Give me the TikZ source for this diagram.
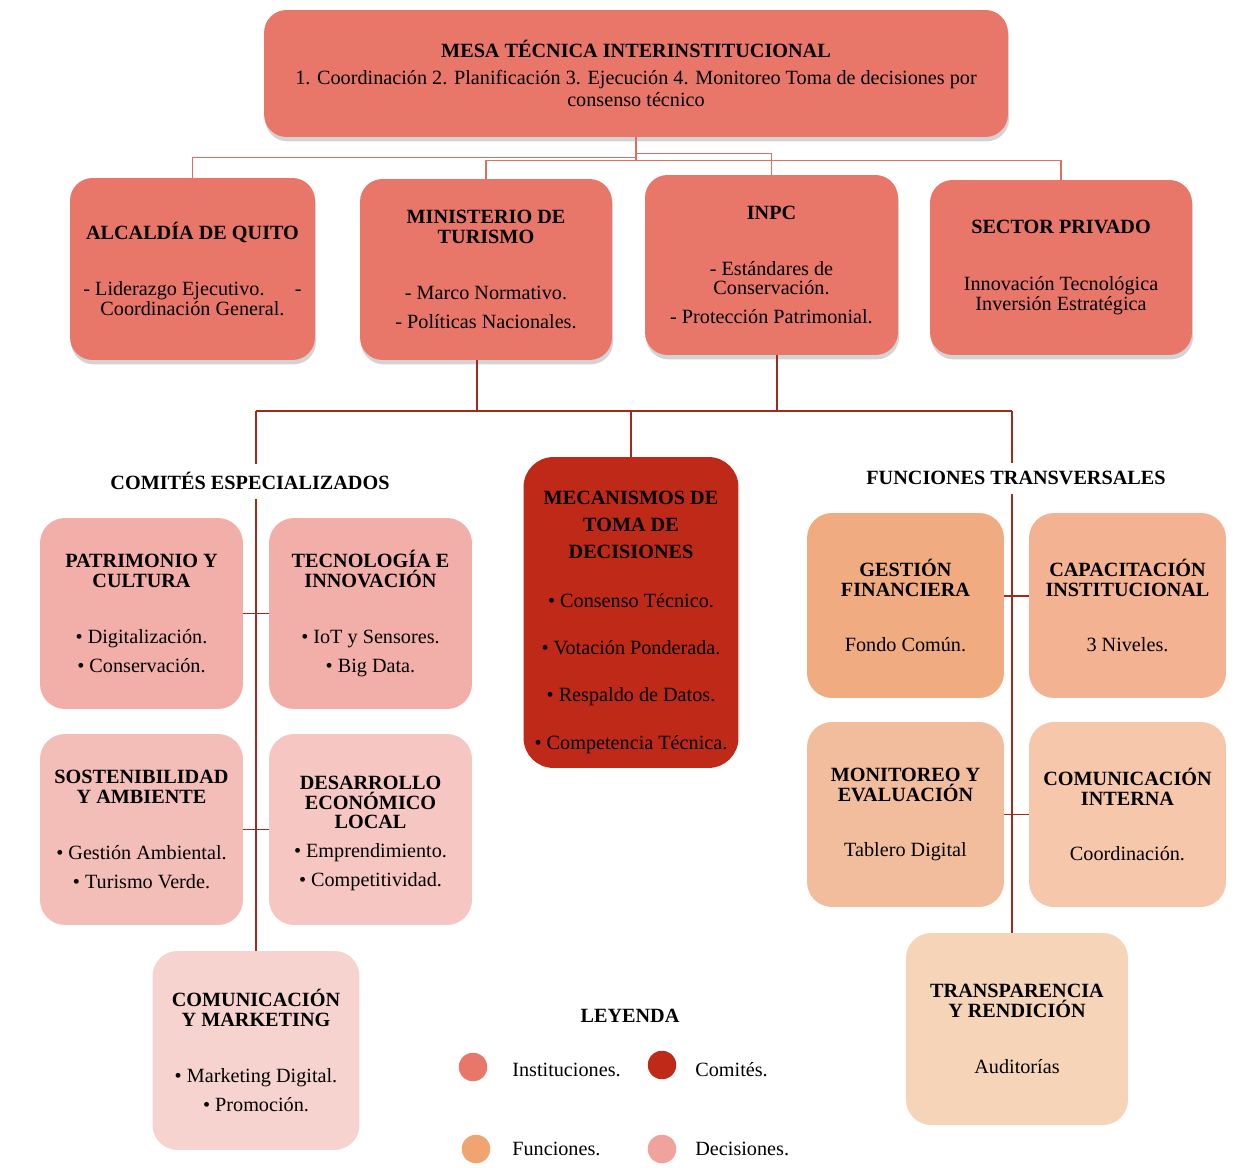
\documentclass[tikz,border=0pt]{standalone}
\usepackage{fontspec}
\setmainfont{Liberation Serif}
\usetikzlibrary{shadows}

\definecolor{institucion}{HTML}{E8776A}
\definecolor{decision}{HTML}{BE2918}
\definecolor{comiteA}{HTML}{F2AFA9}
\definecolor{comiteB}{HTML}{F3BDB8}
\definecolor{comiteC}{HTML}{F6C6C2}
\definecolor{comiteD}{HTML}{F6D3CF}
\definecolor{funcionA}{HTML}{F0AB80}
\definecolor{funcionB}{HTML}{F3B291}
\definecolor{funcionC}{HTML}{F2BD9C}
\definecolor{funcionD}{HTML}{F6C7AA}
\definecolor{funcionE}{HTML}{F5D4B8}
\definecolor{leyfuncion}{HTML}{F0A470}
\definecolor{leydecision}{HTML}{F0A29C}
\definecolor{lineasup}{HTML}{DC6E62}
\definecolor{lineainf}{HTML}{A02A1E}

\newcommand{\tamtexto}{\fontsize{11.5}{11.3}\selectfont}

\tikzset{
    caja/.style={rounded corners=0.45cm, align=center, inner sep=2pt},
    inst/.style={caja, fill=institucion, drop shadow={shadow xshift=0.6pt, shadow yshift=-2.5pt, opacity=0.35}},
    comite/.style={caja, rounded corners=0.5cm, minimum width=4.06cm, minimum height=3.82cm},
    funcion/.style={caja, rounded corners=0.5cm, minimum width=3.94cm, minimum height=3.7cm},
    lazo/.style={draw=lineasup, line width=0.9pt},
    enlace/.style={draw=lineainf, line width=1.1pt},
    grupo/.style={font=\tamtexto\bfseries, fill=white, inner xsep=2pt, inner ysep=5pt, anchor=base},
    punto/.style={circle, minimum size=0.57cm, inner sep=0pt},
    leyenda/.style={anchor=base west, inner sep=0pt}
}

\begin{document}
\begin{tikzpicture}[x=0.02cm, y=-0.02cm, font=\tamtexto]
    \useasboundingbox (0,0) rectangle (1248,1168);

    \node[inst, minimum width=14.88cm, minimum height=2.54cm] (mesa) at (636,73.5) {\textbf{MESA TÉCNICA INTERINSTITUCIONAL}\\[4pt]1. Coordinación 2. Planificación 3. Ejecución 4. Monitoreo Toma de decisiones por\\[1.2pt]consenso técnico};

    \node[inst, minimum width=4.9cm, minimum height=3.64cm] (alc) at (192.5,269) {\textbf{ALCALDÍA DE QUITO}\\[20.4pt]- Liderazgo Ejecutivo.\hspace{1.5em}-\\Coordinación General.};
    \node[inst, minimum width=5.04cm, minimum height=3.62cm] (min) at (486,269.5) {\textbf{MINISTERIO DE}\\\textbf{TURISMO}\\[20.4pt]- Marco Normativo.\\[5.1pt]- Políticas Nacionales.};
    \node[inst, minimum width=5.06cm, minimum height=3.6cm] (inpc) at (771.5,265) {\textbf{INPC}\\[20.4pt]- Estándares de\\Conservación.\\[5.1pt]- Protección Patrimonial.};
    \node[inst, minimum width=5.24cm, minimum height=3.5cm] (sec) at (1061,267.5) {\textbf{SECTOR PRIVADO}\\[21pt]Innovación Tecnológica\\Inversión Estratégica};

    \draw[lazo] (mesa.south) -- ++(0,20) -| (alc.north);
    \draw[lazo] (mesa.south) -- ++(0,23) -| (min.north);
    \draw[lazo] (mesa.south) -- ++(0,16) -| (inpc.north);
    \draw[lazo] (mesa.south) -- ++(0,23) -| (sec.north);

    \node[caja, fill=decision, rounded corners=0.6cm, minimum width=4.3cm, minimum height=6.22cm] (mec) at (631,612.5) {\rule{0pt}{19pt}\textbf{MECANISMOS DE}\\[4pt]\textbf{TOMA DE}\\[4pt]\textbf{DECISIONES}\\[16.5pt]• Consenso Técnico.\\[15.6pt]• Votación Ponderada.\\[15.6pt]• Respaldo de Datos.\\[15.6pt]• Competencia Técnica.};

    \node[comite, fill=comiteA] (pat) at (141.5,613.5) {\textbf{PATRIMONIO Y}\\\textbf{CULTURA}\\[20.4pt]• Digitalización.\\[5.1pt]• Conservación.};
    \node[comite, fill=comiteA] (tec) at (370.5,613.5) {\textbf{TECNOLOGÍA E}\\\textbf{INNOVACIÓN}\\[20.4pt]• IoT y Sensores.\\[5.1pt]• Big Data.};
    \node[comite, fill=comiteB] (sos) at (141.5,829.5) {\textbf{SOSTENIBILIDAD}\\\textbf{Y AMBIENTE}\\[20.4pt]• Gestión Ambiental.\\[5.1pt]• Turismo Verde.};
    \node[comite, fill=comiteC] (des) at (370.5,829.5) {\rule{0pt}{12pt}\textbf{DESARROLLO}\\\textbf{ECONÓMICO}\\\textbf{LOCAL}\\[5.1pt]• Emprendimiento.\\[5.1pt]• Competitividad.};
    \node[comite, fill=comiteD, minimum width=4.14cm, minimum height=3.98cm] (cmk) at (256,1050.5) {\textbf{COMUNICACIÓN}\\\textbf{Y MARKETING}\\[20.4pt]• Marketing Digital.\\[5.1pt]• Promoción.};

    \node[funcion, fill=funcionA] (ges) at (905.5,605.5) {\textbf{GESTIÓN}\\\textbf{FINANCIERA}\\[20.4pt]Fondo Común.};
    \node[funcion, fill=funcionB] (cap) at (1127.5,605.5) {\textbf{CAPACITACIÓN}\\\textbf{INSTITUCIONAL}\\[20.4pt]3 Niveles.};
    \node[funcion, fill=funcionC] (mon) at (905.5,814.5) {\textbf{MONITOREO Y}\\\textbf{EVALUACIÓN}\\[20.4pt]Tablero Digital};
    \node[funcion, fill=funcionD] (cin) at (1127.5,814.5) {\textbf{COMUNICACIÓN}\\\textbf{INTERNA}\\[20.4pt]Coordinación.};
    \node[funcion, fill=funcionE, minimum width=4.44cm, minimum height=3.84cm] (tra) at (1017,1029) {\textbf{TRANSPARENCIA}\\\textbf{Y RENDICIÓN}\\[20.4pt]Auditorías};

    \coordinate (bizq) at (256,411);
    \coordinate (bder) at (1012,411);
    \draw[enlace] (bizq) -- (bder);
    \draw[enlace] ([xshift=-0.18cm]min.south) -- ([xshift=-0.18cm]min.south |- bizq);
    \draw[enlace] ([xshift=0.11cm]inpc.south) -- ([xshift=0.11cm]inpc.south |- bizq);
    \draw[enlace] (mec.north) -- (mec.north |- bizq);
    \draw[enlace] (bizq) -- (bizq |- cmk.north);
    \draw[enlace] (bder) -- (bder |- tra.north);
    \draw[enlace] (pat.east) -- (tec.west);
    \draw[enlace] (sos.east) -- (des.west);
    \draw[enlace] ([yshift=0.19cm]ges.east) -- ([yshift=0.19cm]cap.west);
    \draw[enlace] (mon.east) -- (cin.west);

    \node[grupo] (comites) at (250,490) {COMITÉS ESPECIALIZADOS};
    \node[grupo] (funciones) at (1016,485) {FUNCIONES TRANSVERSALES};

    \node[font=\tamtexto\bfseries, anchor=base] (ley) at (630,1022) {LEYENDA};
    \node[punto, fill=institucion] (pinst) at (473,1067) {};
    \node[leyenda] (tinst) at (512,1076) {Instituciones.};
    \node[punto, fill=decision] (pcom) at (662,1065) {};
    \node[leyenda] (tcom) at (695,1076) {Comités.};
    \node[punto, fill=leyfuncion] (pfun) at (476,1149) {};
    \node[leyenda] (tfun) at (512,1155) {Funciones.};
    \node[punto, fill=leydecision] (pdec) at (662,1149) {};
    \node[leyenda] (tdec) at (695,1155) {Decisiones.};
\end{tikzpicture}
\end{document}
